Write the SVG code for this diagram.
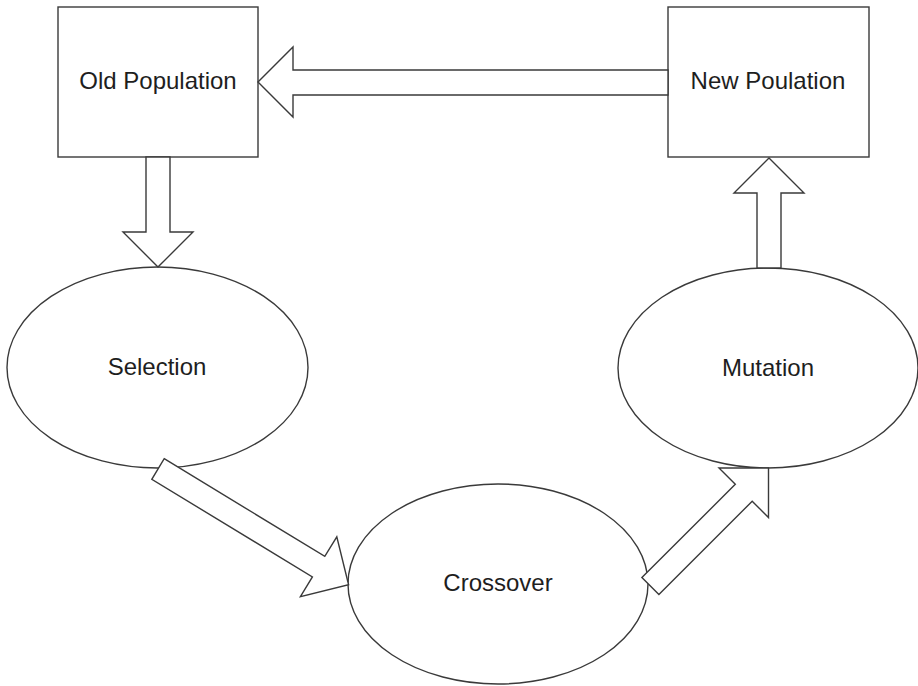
<svg xmlns="http://www.w3.org/2000/svg" width="918" height="686" viewBox="0 0 918 686">
<style>
.shape{fill:#fff;stroke:#3a3a3a;stroke-width:1.4}
.arrow{fill:#fff;stroke:#3a3a3a;stroke-width:1.4;stroke-linejoin:miter}
.lbl{font-family:"Liberation Sans",Arial,sans-serif;font-size:24px;fill:#1e1e1e;text-anchor:middle}
</style>
<rect width="918" height="686" fill="#fff"/>
<g id="old-population">
<rect class="shape" x="58" y="7" width="200" height="150"/>
<text class="lbl" x="158" y="89">Old Population</text>
</g>
<g id="new-population">
<rect class="shape" x="668" y="7" width="201" height="150"/>
<text class="lbl" x="768" y="89">New Poulation</text>
</g>
<g id="selection">
<ellipse class="shape" cx="157.5" cy="367.5" rx="150.5" ry="100.5"/>
<text class="lbl" x="157" y="375">Selection</text>
</g>
<g id="crossover">
<ellipse class="shape" cx="498" cy="584" rx="150" ry="100"/>
<text class="lbl" x="498" y="591">Crossover</text>
</g>
<g id="mutation">
<ellipse class="shape" cx="768" cy="368" rx="150" ry="100"/>
<text class="lbl" x="768" y="376">Mutation</text>
</g>
<g id="connectors">
<polygon class="arrow" points="146,157 170,157 170,232 193,232 158,267 123,232 146,232"/>
<polygon class="arrow" points="757,268 757,193 734,193 769,158 804,193 781,193 781,268"/>
<polygon class="arrow" points="668,70 293,70 293,47 258,82 293,117 293,95 668,95"/>
<polygon class="arrow" points="164.2,458.7 324.8,556.4 336.8,536.8 348.6,584.8 300.4,596.6 312.4,576.9 151.8,479.3"/>
<polygon class="arrow" points="641.9,577.6 735.3,484.3 719,468 768.5,468 768.5,517.5 752.2,501.2 658.9,594.6"/>
</g>
</svg>
